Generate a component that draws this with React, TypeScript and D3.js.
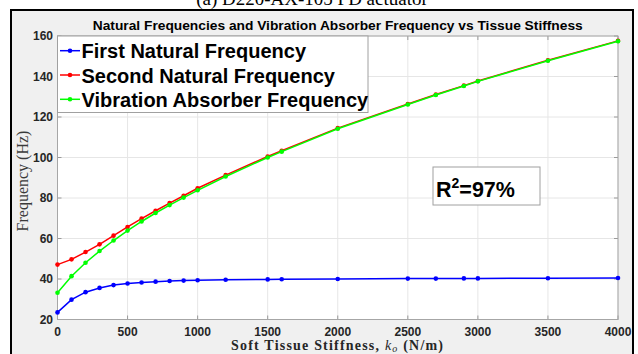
import React from "react";
import * as d3 from "d3";

// Tissue stiffness sample points (N/m)
const stiffness = [0, 100, 200, 300, 400, 500, 600, 700, 800, 900, 1000, 1200, 1500, 1600, 2000, 2500, 2700, 2900, 3000, 3500, 4000];

// Frequencies (Hz) at each stiffness
const firstFreq = [23.5, 29.8, 33.5, 35.6, 37.0, 37.8, 38.3, 38.7, 39.0, 39.2, 39.4, 39.6, 39.8, 39.9, 40.0, 40.2, 40.2, 40.3, 40.3, 40.4, 40.5];
const secondFreq = [47.1, 49.7, 53.3, 57.1, 61.4, 65.7, 69.8, 73.7, 77.5, 81.1, 84.8, 91.3, 100.5, 103.3, 114.5, 126.4, 131.1, 135.5, 137.8, 148.0, 157.6];
const absorberFreq = [33.2, 41.4, 48.0, 53.8, 59.0, 63.9, 68.4, 72.6, 76.5, 80.2, 83.8, 90.6, 100.0, 102.9, 114.2, 126.2, 130.9, 135.3, 137.6, 147.8, 157.4];

const seriesNames = ["First Natural Frequency", "Second Natural Frequency", "Vibration Absorber Frequency"];
const seriesColors = ["#0000ff", "#ff0000", "#00ff00"];

const xTicks = [0, 500, 1000, 1500, 2000, 2500, 3000, 3500, 4000];
const yTicks = [20, 40, 60, 80, 100, 120, 140, 160];

const W = 638;
const H = 354;
const plot = { left: 57.5, right: 618, top: 36, bottom: 319.5 };

export default function App() {
  const x = d3.scaleLinear().domain([0, 4000]).range([plot.left, plot.right]);
  const y = d3.scaleLinear().domain([20, 160]).range([plot.bottom, plot.top]);
  const line = d3
    .line<[number, number]>()
    .x((d) => x(d[0]))
    .y((d) => y(d[1]));

  const series = [firstFreq, secondFreq, absorberFreq].map((vals) =>
    stiffness.map((s, i) => [s, vals[i]] as [number, number])
  );

  const sans = "'Liberation Sans', Arial, sans-serif";
  const serif = "'Liberation Serif', 'Times New Roman', serif";
  const tickColor = "#262626";

  return (
    <svg
      width={W}
      height={H}
      style={{ position: "fixed", left: 0, top: 0, background: "#ffffff" }}
    >
      {/* figure frame */}
      <rect x={11} y={10} width={622} height={360} fill="#f0f0f0" stroke="#000" strokeWidth={2} />

      {/* caption above the frame */}
      <text x={312} y={5} textAnchor="middle" fontFamily={serif} fontSize={19} fill="#000">
        (a) D220-AX-105 PD actuator
      </text>

      {/* axes background */}
      <rect x={plot.left} y={plot.top} width={plot.right - plot.left} height={plot.bottom - plot.top} fill="#fff" />

      {/* grid */}
      {xTicks.map((t) => (
        <line key={"gx" + t} x1={x(t)} x2={x(t)} y1={plot.top} y2={plot.bottom} stroke="#e6e6e6" strokeWidth={1} />
      ))}
      {yTicks.map((t) => (
        <line key={"gy" + t} x1={plot.left} x2={plot.right} y1={y(t)} y2={y(t)} stroke="#e6e6e6" strokeWidth={1} />
      ))}

      {/* tick marks on all four sides */}
      {xTicks.map((t) => (
        <g key={"tx" + t} stroke="#9a9a9a" strokeWidth={1}>
          <line x1={x(t)} x2={x(t)} y1={plot.bottom} y2={plot.bottom - 4} />
          <line x1={x(t)} x2={x(t)} y1={plot.top} y2={plot.top + 4} />
        </g>
      ))}
      {yTicks.map((t) => (
        <g key={"ty" + t} stroke="#9a9a9a" strokeWidth={1}>
          <line x1={plot.left} x2={plot.left + 4} y1={y(t)} y2={y(t)} />
          <line x1={plot.right} x2={plot.right - 4} y1={y(t)} y2={y(t)} />
        </g>
      ))}

      {/* axes box */}
      <rect
        x={plot.left}
        y={plot.top}
        width={plot.right - plot.left}
        height={plot.bottom - plot.top}
        fill="none"
        stroke="#a6a6a6"
        strokeWidth={1}
      />

      {/* series */}
      {series.map((pts, si) => (
        <g key={"s" + si}>
          <path d={line(pts) || ""} fill="none" stroke={seriesColors[si]} strokeWidth={1.5} />
          {pts.map((p, i) => (
            <circle key={i} cx={x(p[0])} cy={y(p[1])} r={2.3} fill={seriesColors[si]} />
          ))}
        </g>
      ))}

      {/* tick labels */}
      {xTicks.map((t) => (
        <text
          key={"lx" + t}
          x={x(t)}
          y={336}
          textAnchor="middle"
          fontFamily={sans}
          fontWeight="bold"
          fontSize={12}
          fill={tickColor}
        >
          {t}
        </text>
      ))}
      {yTicks.map((t) => (
        <text
          key={"ly" + t}
          x={53}
          y={y(t) + 4.3}
          textAnchor="end"
          fontFamily={sans}
          fontWeight="bold"
          fontSize={12}
          fill={tickColor}
        >
          {t}
        </text>
      ))}

      {/* title */}
      <text
        x={(plot.left + plot.right) / 2}
        y={30}
        textAnchor="middle"
        fontFamily={sans}
        fontWeight="bold"
        fontSize={12}
        fill="#000"
        textLength={490}
        lengthAdjust="spacingAndGlyphs"
      >
        Natural Frequencies and Vibration Absorber Frequency vs Tissue Stiffness
      </text>

      {/* axis labels */}
      <text
        transform={`translate(27.5,181) rotate(-90)`}
        textAnchor="middle"
        fontFamily={serif}
        fontSize={16}
        fill="#3a3a3a"
      >
        Frequency (Hz)
      </text>
      <text
        x={337}
        y={349.5}
        textAnchor="middle"
        fontFamily={serif}
        fontWeight="bold"
        fontSize={14}
        fill="#262626"
        textLength={212}
        lengthAdjust="spacing"
      >
        Soft Tissue Stiffness,{" "}
        <tspan fontStyle="italic" fontWeight="normal">k</tspan>
        <tspan fontStyle="italic" fontWeight="normal" fontSize={10} dy={2}>o</tspan>
        <tspan dy={-2}> (N/m)</tspan>
      </text>

      {/* legend */}
      <rect x={57.5} y={36} width={310.5} height={76.5} fill="#fff" stroke="#a0a0a0" strokeWidth={1} />
      {seriesNames.map((name, i) => {
        const ly = 50.7 + i * 24.3;
        return (
          <g key={"lg" + i}>
            <line x1={60} x2={80} y1={ly} y2={ly} stroke={seriesColors[i]} strokeWidth={1.5} />
            <circle cx={70} cy={ly} r={2.3} fill={seriesColors[i]} />
            <text x={81.5} y={ly + 7.5} fontFamily={sans} fontWeight="bold" fontSize={20} fill="#000">
              {name}
            </text>
          </g>
        );
      })}

      {/* fit annotation */}
      <rect x={433} y={167} width={107} height={38} fill="#fff" stroke="#a0a0a0" strokeWidth={1} />
      <text x={436} y={197} fontFamily={sans} fontWeight="bold" fontSize={21.5} fill="#000">
        R<tspan fontSize={14} dy={-9}>2</tspan>
        <tspan dy={9}>=97%</tspan>
      </text>
    </svg>
  );
}
